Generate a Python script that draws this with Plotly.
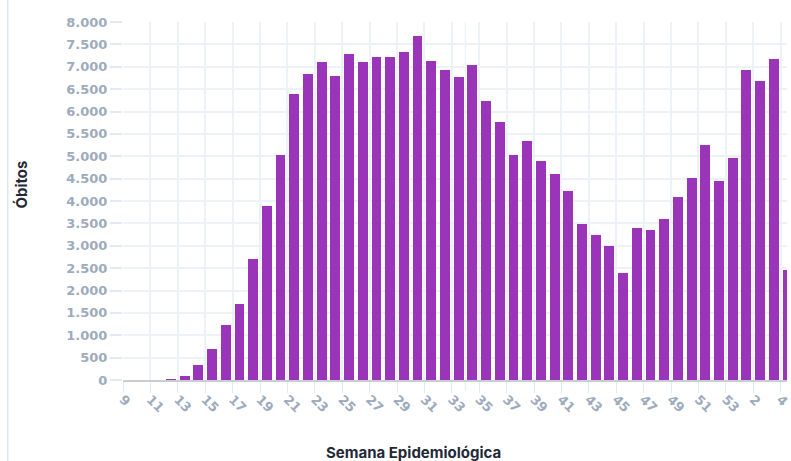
import plotly.graph_objects as go

# Epidemiological weeks (2020: 9-53, 2021: 1-4)
weeks = ["9", "10", "11", "12", "13", "14", "15", "16", "17", "18", "19", "20",
         "21", "22", "23", "24", "25", "26", "27", "28", "29", "30", "31", "32",
         "33", "34", "35", "36", "37", "38", "39", "40", "41", "42", "43", "44",
         "45", "46", "47", "48", "49", "50", "51", "52", "53", "1", "2", "3", "4"]

deaths = [0, 0, 0, 20, 100, 330, 700, 1240, 1700, 2710, 3890, 5020,
          6390, 6840, 7110, 6800, 7280, 7110, 7210, 7210, 7320, 7677, 7130, 6930,
          6770, 7030, 6240, 5760, 5020, 5330, 4890, 4600, 4220, 3490, 3240, 2990,
          2390, 3400, 3345, 3590, 4080, 4510, 5250, 4450, 4950, 6930, 6680, 7170, 2460]

y_title = "Óbitos"
x_title = "Semana Epidemiológica"

W, H = 791, 461
ML, MR, MT = 123, 0, 22
plot_bottom = 380
MB = H - plot_bottom
plot_w = W - ML - MR
plot_h = H - MT - MB
px_per_cat = 13.783
x_max = plot_w / px_per_cat

bar_w = 0.72
bar_color = "#9a35b9"
grid_color = "#edf2f8"
tick_font = dict(family="DejaVu Sans", size=13, color="#9dabbd", weight="bold")
title_font = dict(family="Inter", size=15, color="#1f2937", weight="bold")


def px_x(p):
    return (p - ML) / plot_w


def px_y(p):
    return (plot_bottom - p) / plot_h


fig = go.Figure()
fig.add_trace(go.Bar(
    x=weeks, y=deaths,
    width=bar_w, offset=0.5 - bar_w / 2,
    marker=dict(color=bar_color, line=dict(width=0)),
    hoverinfo="x+y",
))

fig.update_layout(
    width=W, height=H,
    margin=dict(l=ML, r=MR, t=MT, b=MB, pad=0),
    paper_bgcolor="white", plot_bgcolor="white",
    separators=",.",
    showlegend=False,
    bargap=0,
    xaxis=dict(
        type="category", range=[0, x_max],
        tickmode="linear", tick0=0, dtick=2,
        tickangle=45, tickfont=tick_font, ticklabelstandoff=-6,
        showgrid=True, gridcolor=grid_color, gridwidth=1.5,
        ticks="outside", ticklen=11, tickcolor="#e3e9f1", tickwidth=1.2,
        showline=True, linecolor="#c9cdd3", linewidth=1.5,
        zeroline=False, fixedrange=True,
    ),
    yaxis=dict(
        range=[0, 8000], tickmode="linear", tick0=0, dtick=500,
        tickformat=",d", tickfont=tick_font,
        showgrid=True, gridcolor=grid_color, gridwidth=1.5,
        ticks="outside", ticklen=12, tickcolor="#e3e9f1", tickwidth=1.5,
        zeroline=False, showline=False, fixedrange=True,
    ),
    annotations=[
        dict(text=y_title, textangle=-90, xref="paper", yref="paper",
             x=px_x(20), y=px_y(185),
             xanchor="center", yanchor="middle", showarrow=False, font=title_font),
        dict(text=x_title, xref="paper", yref="paper",
             x=px_x(415), y=px_y(452),
             xanchor="center", yanchor="middle", showarrow=False, font=title_font),
    ],
    shapes=[
        # card border on the left
        dict(type="line", xref="paper", yref="paper",
             x0=px_x(7), x1=px_x(7),
             y0=px_y(470), y1=px_y(-10),
             line=dict(color="#dae6f2", width=1.5)),
        # extra grid line / tick at week 34
        dict(type="line", xref="x", yref="paper", layer="below",
             x0=weeks.index("34"), x1=weeks.index("34"),
             y0=-11 / plot_h, y1=1,
             line=dict(color=grid_color, width=1.5)),
    ],
)

fig.write_html(
    "out.html",
    config={"displayModeBar": False},
    post_script="document.body.style.margin='0';document.body.style.overflow='hidden';",
)
